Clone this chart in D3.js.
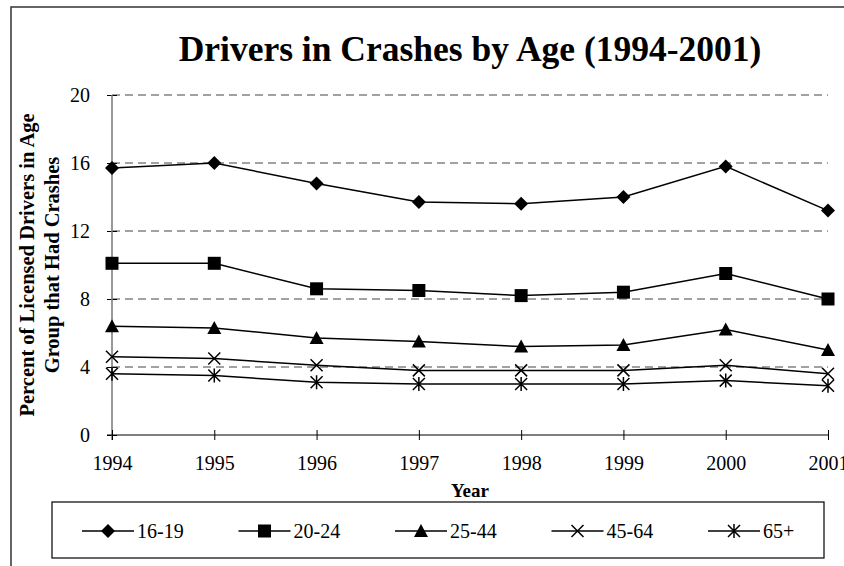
<!DOCTYPE html>
<html>
<head>
<meta charset="utf-8">
<script src="https://cdn.jsdelivr.net/npm/d3@7"></script>
<style>
  body { margin: 0; background: #fff; }
  svg { display: block; font-family: 'Liberation Serif', 'Times New Roman', serif; }
</style>
</head>
<body>
<svg id="chart"></svg>
<script>
const years = [1994, 1995, 1996, 1997, 1998, 1999, 2000, 2001];
const ages16to19 = [15.7, 16.0, 14.8, 13.7, 13.6, 14.0, 15.8, 13.2];
const ages20to24 = [10.1, 10.1, 8.6, 8.5, 8.2, 8.4, 9.5, 8.0];
const ages25to44 = [6.4, 6.3, 5.7, 5.5, 5.2, 5.3, 6.2, 5.0];
const ages45to64 = [4.6, 4.5, 4.1, 3.8, 3.8, 3.8, 4.1, 3.6];
const ages65plus = [3.6, 3.5, 3.1, 3.0, 3.0, 3.0, 3.2, 2.9];
const yTicks = [0, 4, 8, 12, 16, 20];

const series = [
  { name: '16-19', values: ages16to19, symbol: 'diamond' },
  { name: '20-24', values: ages20to24, symbol: 'square' },
  { name: '25-44', values: ages25to44, symbol: 'triangle' },
  { name: '45-64', values: ages45to64, symbol: 'cross' },
  { name: '65+', values: ages65plus, symbol: 'star' },
];

const width = 844;
const height = 566;

const svg = d3.select('#chart').attr('width', width).attr('height', height);

// outer frame (cut off at right / bottom)
svg.append('path')
  .attr('d', `M11,${height + 2} L11,7 L${width + 2},7`)
  .attr('fill', 'none')
  .attr('stroke', '#333')
  .attr('stroke-width', 1.5);

const xScale = d3.scaleLinear().domain([1994, 2001]).range([112, 828]);
const yScale = d3.scaleLinear().domain([0, 20]).range([435, 95]);

svg.append('text')
  .attr('x', 470)
  .attr('y', 61)
  .attr('text-anchor', 'middle')
  .attr('font-size', '35.5px')
  .attr('font-weight', 'bold')
  .text('Drivers in Crashes by Age (1994-2001)');

// grid
svg.append('g')
  .selectAll('line')
  .data(yTicks.filter((d) => d > 0))
  .enter()
  .append('line')
  .attr('x1', xScale(1994))
  .attr('x2', xScale(2001))
  .attr('y1', (d) => yScale(d))
  .attr('y2', (d) => yScale(d))
  .attr('stroke', '#444')
  .attr('stroke-width', 1)
  .attr('stroke-dasharray', '8,5');

// y axis
const yAxis = d3.axisLeft(yScale).tickValues(yTicks).tickSize(0).tickPadding(0);
const yG = svg.append('g')
  .attr('transform', `translate(${xScale(1994)},0)`)
  .call(yAxis);
yG.select('.domain').remove();
yG.selectAll('.tick text')
  .attr('x', -22)
  .attr('font-size', '20px')
  .attr('font-family', 'Liberation Serif')
  .attr('fill', '#000');
yG.selectAll('.tick')
  .append('line')
  .attr('x1', -5)
  .attr('x2', 5)
  .attr('stroke', '#000');
yG.append('line')
  .attr('y1', yScale(20))
  .attr('y2', yScale(0) + 5)
  .attr('stroke', '#777')
  .attr('stroke-width', 1.5);

// x axis
const xAxis = d3.axisBottom(xScale).tickValues(years).tickFormat(d3.format('d')).tickSize(0).tickPadding(0);
const xG = svg.append('g')
  .attr('transform', `translate(0,${yScale(0)})`)
  .call(xAxis);
xG.select('.domain').remove();
xG.append('line')
  .attr('x1', xScale(1994) - 5)
  .attr('x2', xScale(2001))
  .attr('stroke', '#000')
  .attr('stroke-width', 1.2);
xG.selectAll('.tick')
  .append('line')
  .attr('y1', -5)
  .attr('y2', 5)
  .attr('stroke', '#000');
xG.selectAll('.tick text')
  .attr('y', 21)
  .attr('font-size', '20px')
  .attr('font-family', 'Liberation Serif')
  .attr('fill', '#000');

svg.append('text')
  .attr('x', 470)
  .attr('y', 497)
  .attr('text-anchor', 'middle')
  .attr('font-size', '19px')
  .attr('font-weight', 'bold')
  .text('Year');

const yTitle = svg.append('text')
  .attr('transform', `translate(0,265) rotate(-90)`)
  .attr('text-anchor', 'middle')
  .attr('font-size', '20.5px')
  .attr('font-weight', 'bold');
yTitle.append('tspan').attr('x', 0).attr('y', 34).text('Percent of Licensed Drivers in Age');
yTitle.append('tspan').attr('x', 0).attr('y', 59).text('Group that Had Crashes');

// markers
function drawMarker(g, symbol) {
  if (symbol === 'diamond') {
    g.append('path').attr('d', 'M0,-7 L7,0 L0,7 L-7,0 Z').attr('fill', '#000');
  } else if (symbol === 'square') {
    g.append('rect').attr('x', -6.5).attr('y', -6.5).attr('width', 13).attr('height', 13).attr('fill', '#000');
  } else if (symbol === 'triangle') {
    g.append('path').attr('d', 'M0,-7 L7,6 L-7,6 Z').attr('fill', '#000');
  } else if (symbol === 'cross') {
    g.append('path').attr('d', 'M-6,-6 L6,6 M-6,6 L6,-6').attr('stroke', '#000').attr('stroke-width', 1.5);
  } else if (symbol === 'star') {
    g.append('path').attr('d', 'M-6,-6 L6,6 M-6,6 L6,-6 M0,-7 L0,7').attr('stroke', '#000').attr('stroke-width', 1.5);
  }
}

const line = d3.line()
  .x((d, i) => xScale(years[i]))
  .y((d) => yScale(d));

const lines = svg.append('g').attr('class', 'lines');

series.forEach((s) => {
  lines.append('path')
    .attr('d', line(s.values))
    .attr('fill', 'none')
    .attr('stroke', '#000')
    .attr('stroke-width', 1.5);
  s.values.forEach((v, i) => {
    const g = lines.append('g').attr('transform', `translate(${xScale(years[i])},${yScale(v)})`);
    drawMarker(g, s.symbol);
  });
});

// legend
const legend = svg.append('g');
legend.append('rect')
  .attr('x', 52)
  .attr('y', 502)
  .attr('width', 772)
  .attr('height', 56)
  .attr('fill', '#fff')
  .attr('stroke', '#000')
  .attr('stroke-width', 1.2);

const legendX = d3.scalePoint().domain(series.map((s) => s.name)).range([108, 734]);

series.forEach((s) => {
  const cx = legendX(s.name);
  const g = legend.append('g').attr('transform', `translate(${cx},531)`);
  g.append('line').attr('x1', -26).attr('x2', 26).attr('stroke', '#000').attr('stroke-width', 1.5);
  drawMarker(g, s.symbol);
  legend.append('text')
    .attr('x', cx + 29)
    .attr('y', 538)
    .attr('font-size', '20px')
    .text(s.name);
});
</script>
</body>
</html>
